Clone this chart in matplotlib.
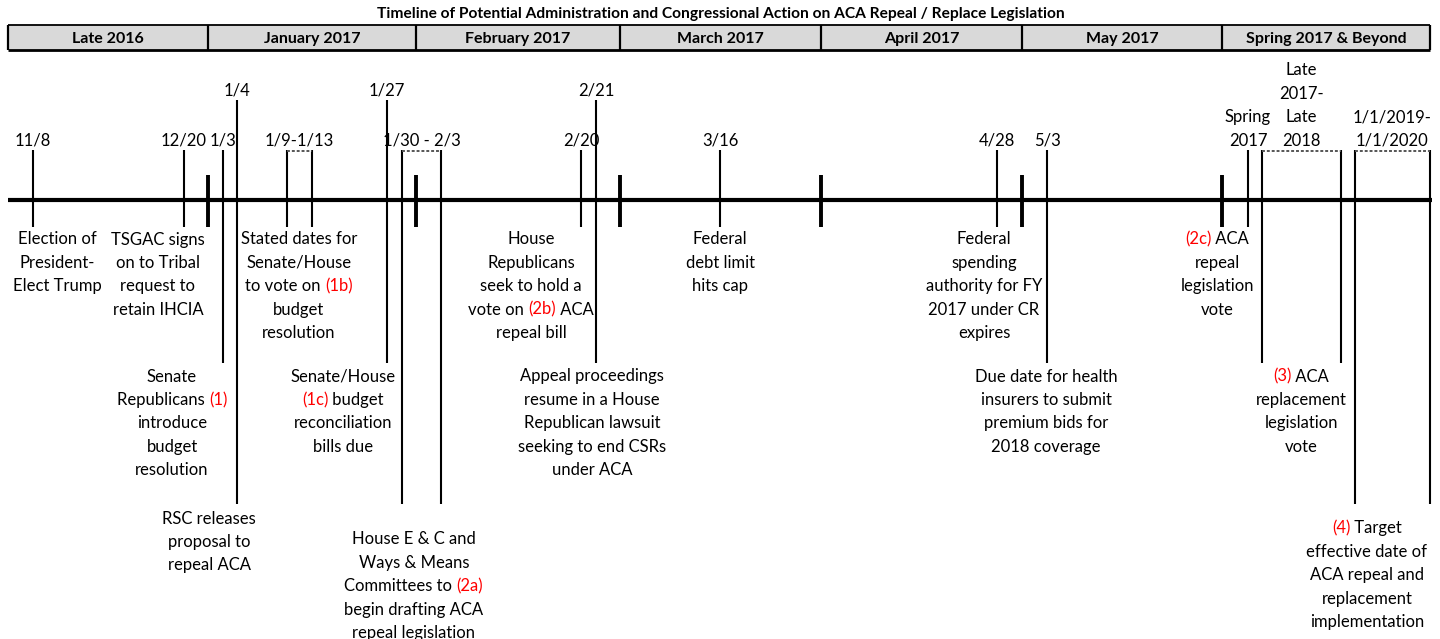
import re
import numpy as np
import matplotlib
matplotlib.use("Agg")
import matplotlib.pyplot as plt
from matplotlib.transforms import offset_copy

plt.rcParams['font.family'] = ['Lato', 'DejaVu Sans']

title = "Timeline of Potential Administration and Congressional Action on ACA Repeal / Replace Legislation"
segments = ["Late 2016", "January 2017", "February 2017", "March 2017",
            "April 2017", "May 2017", "Spring 2017 & Beyond"]

# single-date events; position in header-cell units (cell i spans i..i+1)
point_labels = ["11/8", "12/20", "1/3", "1/4", "1/27", "2/20", "2/21",
                "3/16", "4/28", "5/3", "Spring\n2017"]
point_pos = [0.125, 0.880, 1.072, 1.139, 1.861, 2.809, 2.882,
             3.498, 4.876, 5.125, 6.125]

# date ranges
range_labels = ["1/9-1/13", "1/30 - 2/3", "Late\n2017-\nLate\n2018", "1/1/2019-\n1/1/2020"]
range_start = [1.380, 1.933, 6.192, 6.639]
range_end = [1.500, 2.123, 6.572, 7.0]

# descriptions, {..} marks the red step number
notes = [
    "Election of\nPresident-\nElect Trump",
    "TSGAC signs\non to Tribal\nrequest to\nretain IHCIA",
    "Stated dates for\nSenate/House\nto vote on {(1b)}\nbudget\nresolution",
    "House\nRepublicans\nseek to hold a\nvote on {(2b)} ACA\nrepeal bill",
    "Federal\ndebt limit\nhits cap",
    "Federal\nspending\nauthority for FY\n2017 under CR\nexpires",
    "{(2c)} ACA\nrepeal\nlegislation\nvote",
    "Senate\nRepublicans {(1)}\nintroduce\nbudget\nresolution",
    "Senate/House\n{(1c)} budget\nreconciliation\nbills due",
    "Appeal proceedings\nresume in a House\nRepublican lawsuit\nseeking to end CSRs\nunder ACA",
    "Due date for health\ninsurers to submit\npremium bids for\n2018 coverage",
    "{(3)} ACA\nreplacement\nlegislation\nvote",
    "RSC releases\nproposal to\nrepeal ACA",
    "House E & C and\nWays & Means\nCommittees to {(2a)}\nbegin drafting ACA\nrepeal legislation",
    "{(4)} Target\neffective date of\nACA repeal and\nreplacement\nimplementation",
]
note_pos = [0.245, 0.750, 1.4375, 2.564, 3.498, 4.811, 5.975,
            0.820, 1.649, 2.863, 5.120, 6.380,
            1.005, 1.990, 6.697]

# ---- layout (pixels) ----
EDGES = [8, 208, 416, 620, 821, 1022, 1222, 1430]
point_up = [0, 0, 0, 1, 1, 0, 1, 0, 0, 0, 0]
point_down = [0, 0, 1, 2, 1, 0, 1, 0, 0, 1, 0]
range_down = [0, 2, 1, 2]
note_y = [238, 238, 238, 238, 238, 238, 238,
          375, 375, 375, 375, 375,
          517, 538, 527]
TOP = [150, 100]
BOTTOM = [227, 363, 504]
AXIS_Y = 200
LS = 23.4
FS = 12
RED = '#FF0000'


def X(u):
    return np.interp(u, range(len(EDGES)), EDGES)


fig = plt.figure(figsize=(14.4, 6.39), dpi=100)
ax = fig.add_axes([0, 0, 1, 1])
ax.set_xlim(0, 1440)
ax.set_ylim(639, 0)
ax.axis('off')
renderer = fig.canvas.get_renderer()


def width(s, size=FS, weight='normal'):
    t = ax.text(0, 0, s, fontsize=size, fontweight=weight)
    w = t.get_window_extent(renderer).width
    t.remove()
    return w


def draw_text(x, y, text, size=FS, weight='normal', last_at=None):
    lines = text.split('\n')
    if last_at is not None:
        y = last_at - (len(lines) - 1) * LS
    for i, line in enumerate(lines):
        yy = y + i * LS
        parts = re.split(r'(\{[^}]*\})', line)
        parts = [(p[1:-1], RED) if p.startswith('{') else (p, 'black') for p in parts if p]
        if len(parts) == 1:
            ax.text(x, yy, parts[0][0], color=parts[0][1], fontsize=size, fontweight=weight,
                    ha='center', va='center_baseline')
            continue
        plain = ''.join(p for p, _ in parts)
        W = width(plain, size, weight)
        acc = ''
        for s, c in parts:
            off = 0 if not acc else width('|' + acc + '|', size) - width('||', size)
            tr = offset_copy(ax.transData, fig=fig, x=-W / 2 + off, y=0, units='dots')
            ax.text(x, yy, s, color=c, fontsize=size, fontweight=weight,
                    ha='left', va='center_baseline', transform=tr)
            acc += s


# title
ax.text(X(len(segments) / 2), 14, title, fontsize=11.2, fontweight='bold',
        ha='center', va='center')

# header cells
for i, name in enumerate(segments):
    ax.fill_between([X(i), X(i + 1)], 25, 50, color='#d9d9d9', lw=0)
    ax.text(X(i + 0.5), 39, name, fontsize=11.5, fontweight='bold', ha='center', va='center')
ax.hlines(25, X(0), X(len(segments)), color='black', lw=1.3)
ax.hlines(50, X(0), X(len(segments)), color='black', lw=2)
ax.vlines(X(np.arange(len(segments) + 1)), 25, 50, color='black', lw=1.6)

# main axis and month ticks
ax.hlines(AXIS_Y, X(0), X(len(segments)) + 2, color='black', lw=3)
ax.vlines(X(np.arange(1, len(segments))), 175, 227, color='black', lw=2.8)

# point events
for lab, p, up, dn in zip(point_labels, point_pos, point_up, point_down):
    ax.vlines(X(p), TOP[up], BOTTOM[dn], color='black', lw=1.5)
    draw_text(X(p), 0, lab, last_at=TOP[up] - 11)

# range events
for lab, a, b, dn in zip(range_labels, range_start, range_end, range_down):
    ax.vlines([X(a), X(b)], TOP[0], BOTTOM[dn], color='black', lw=1.5)
    ax.hlines(TOP[0] + 1, X(a), X(b), color='#555555', lw=1.4, linestyles=(0, (1.5, 1)))
    draw_text((X(a) + X(b)) / 2, 0, lab, last_at=TOP[0] - 11)

# descriptions
for txt, p, y in zip(notes, note_pos, note_y):
    draw_text(X(p), y, txt)

fig.savefig('out.png', dpi=100)
